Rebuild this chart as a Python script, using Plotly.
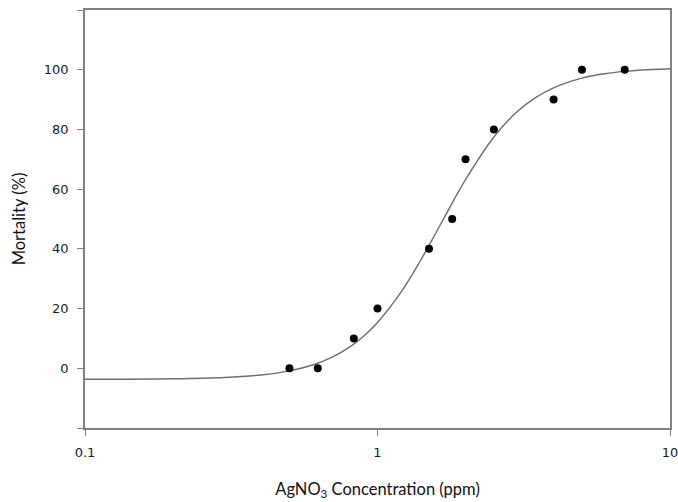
import plotly.graph_objects as go

# Observed data points
conc = [0.5, 0.625, 0.83, 1.0, 1.5, 1.8, 2.0, 2.5, 4.0, 5.0, 7.0]
mortality = [0, 0, 10, 20, 40, 50, 70, 80, 90, 100, 100]

# Fitted curve
curve_x = [0.1, 0.2, 0.3, 0.4, 0.5, 0.6, 0.7, 0.8, 0.9, 1.0, 1.2, 1.4, 1.6,
           1.8, 2.0, 2.5, 3.0, 3.5, 4.0, 5.0, 6.0, 7.0, 8.0, 10.0]
curve_y = [-3.68, -3.51, -3.08, -2.23, -0.87, 1.09, 3.71, 6.99, 10.89, 15.33,
           25.33, 35.93, 46.14, 55.34, 63.22, 77.47, 85.9, 90.88, 93.95,
           97.18, 98.67, 99.45, 99.89, 100.33]

x_ticks = [0.1, 1, 10]
x_labels = ["0.1", "1", "10"]
y_ticks = [-20, 0, 20, 40, 60, 80, 100, 120]
y_labels = ["", "0", "20", "40", "60", "80", "100", ""]

fig = go.Figure()
fig.add_trace(go.Scatter(x=curve_x, y=curve_y, mode="lines",
                         line=dict(color="#6e6e6e", width=1.4, shape="spline"),
                         hoverinfo="skip", showlegend=False))
fig.add_trace(go.Scatter(x=conc, y=mortality, mode="markers",
                         marker=dict(color="black", size=8),
                         showlegend=False))

axis_common = dict(showline=True, linecolor="#808080", linewidth=1.5,
                   mirror=True, ticks="outside", ticklen=6, tickwidth=1.2,
                   tickcolor="#808080", showgrid=False, zeroline=False,
                   automargin=False, ticklabeloverflow="allow",
                   tickfont=dict(family="DejaVu Sans", size=13, color="#1a1a2e"))

title_font = dict(family="Lato", size=16.5, color="#111")

fig.update_layout(
    width=678, height=502,
    margin=dict(l=85, r=8, t=10, b=74),
    paper_bgcolor="white", plot_bgcolor="white",
    xaxis=dict(type="log", range=[-1, 1], tickvals=x_ticks, ticktext=x_labels,
               ticklabelstandoff=6,
               title=dict(text="AgNO<sub>3</sub> Concentration (ppm)",
                          font=title_font, standoff=24),
               **axis_common),
    yaxis=dict(range=[-20, 120], tickvals=y_ticks, ticktext=y_labels,
               ticklabelstandoff=6,
               title=dict(text="Mortality (%)", font=title_font, standoff=14),
               **axis_common),
)

fig.write_html("out.html")
